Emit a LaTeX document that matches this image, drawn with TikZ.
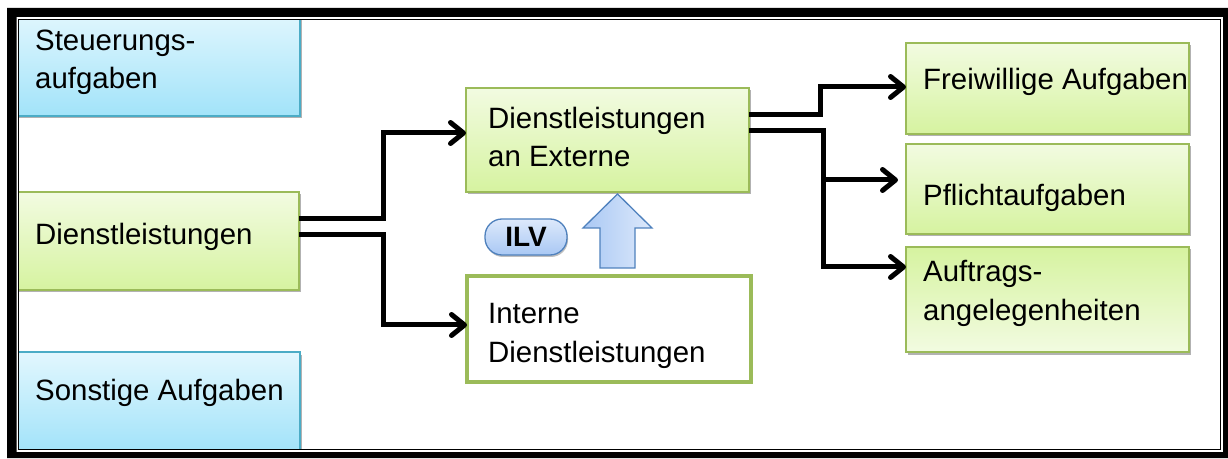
\documentclass[tikz,border=0pt]{standalone}
\usepackage{fontspec}
\setmainfont{Liberation Sans}
\usetikzlibrary{arrows.meta,shadows,calc}
\definecolor{gtop}{HTML}{F2FBE1}
\definecolor{gbot}{HTML}{D6F3A0}
\definecolor{gline}{HTML}{9BBB59}
\definecolor{btop}{HTML}{E2F7FE}
\definecolor{bbot}{HTML}{A2E3F9}
\definecolor{bline}{HTML}{4BACC6}
\definecolor{ltop}{HTML}{DDE9FB}
\definecolor{lbot}{HTML}{A9C8F4}
\definecolor{lline}{HTML}{4F81BD}
\tikzset{
  boxbase/.style={draw, line width=1.2pt, outer sep=0pt, inner sep=0pt, anchor=north west,
    drop shadow={shadow xshift=1.5pt, shadow yshift=-2.5pt, opacity=0.3, fill=black}},
  bluebox/.style={boxbase, draw=bline, top color=btop, bottom color=bbot},
  greenbox/.style={boxbase, draw=gline, top color=gtop, bottom color=gbot},
  greenboxrev/.style={boxbase, draw=gline, top color=gbot, bottom color=gtop},
  whitebox/.style={draw=gline, line width=3.5pt, fill=white, outer sep=0pt, inner sep=0pt, anchor=north west},
  lbl/.style={font=\fontsize{29.4}{38.5}\selectfont, align=left, inner sep=0pt, anchor=base west},
  conn/.style={line width=5pt, line join=miter, -{Straight Barb[length=13pt,width=21pt,line width=5pt,round]}},
}
\begin{document}
\begin{tikzpicture}[x=1pt,y=1pt]
\useasboundingbox (0,0) rectangle (1228,458);
% boxes
\node[bluebox, minimum width=290pt, minimum height=106pt] (steu) at (10,448) {};
\node[greenbox, minimum width=289pt, minimum height=98pt] (dl) at (10,266) {};
\node[bluebox, minimum width=290pt, minimum height=99pt] (sonst) at (10,106) {};
\node[greenbox, minimum width=283pt, minimum height=104pt] (ext) at (466,370) {};
\node[whitebox, minimum width=284pt, minimum height=106pt] (int) at (467,182) {};
\node[greenbox, minimum width=283pt, minimum height=91pt] (frei) at (906,415) {};
\node[greenbox, minimum width=283pt, minimum height=90pt] (pfl) at (906,314) {};
\node[greenboxrev, minimum width=283pt, minimum height=105pt] (auf) at (906,211) {};
% texts (base anchor = baseline of the last line)
\node[lbl] (tsteu) at (35,369) {Steuerungs-\\aufgaben};
\node[lbl] (tdl) at (35,213) {Dienstleistungen};
\node[lbl] (tsonst) at (35,58) {Sonstige Aufgaben};
\node[lbl] (text) at (488,291) {Dienstleistungen\\an Externe};
\node[lbl] (tint) at (488,96) {Interne\\Dienstleistungen};
\node[lbl] (tfrei) at (923,368) {Freiwillige Aufgaben};
\node[lbl] (tpfl) at (923,252) {Pflichtaufgaben};
\node[lbl] (tauf) at (923,138) {Auftrags-\\angelegenheiten};
% ILV pill and block arrow
\node[draw=lline, line width=1.3pt, top color=ltop, bottom color=lbot, rounded corners=17pt,
  minimum width=82pt, minimum height=36pt, inner sep=0pt,
  drop shadow={shadow xshift=1pt, shadow yshift=-2pt, opacity=0.25, fill=black},
  font=\fontsize{28}{30}\selectfont\bfseries] (ilv) at (526,221) {ILV};
\path[draw=lline, line width=1.3pt, left color=lbot, right color=ltop, line join=miter]
  (600,190) -- (600,230) -- (583,230) -- (617.5,264) -- (652,230) -- (635,230) -- (635,190) -- cycle;
% connectors
\draw[conn] ([yshift=22pt]dl.east) -- ++(84,0) |- ([yshift=7pt]ext.west);
\draw[conn] ([yshift=6pt]dl.east) -- ++(84,0) |- ([yshift=4pt]int.west);
\draw[conn] ([yshift=25pt]ext.east) -- ++(71,0) |- ([yshift=1.5pt]frei.west);
\draw[conn, shorten >=8pt] ([yshift=9pt]ext.east) -- ++(74,0) |- ([yshift=9pt]pfl.west);
\draw[conn] ([yshift=9pt]ext.east) -- ++(74,0) |- ([yshift=32.5pt]auf.west);
% frame
\fill[white, even odd rule] (0,0) rectangle (1228,458) (18.5,8.5) rectangle (1220.5,438.5);
\fill[black, even odd rule] (7,0) rectangle (1228,450) (16.5,6) rectangle (1223,441);
\draw[black, line width=1.2pt] (18.5,8.5) rectangle (1220.5,438.5);
\end{tikzpicture}
\end{document}
